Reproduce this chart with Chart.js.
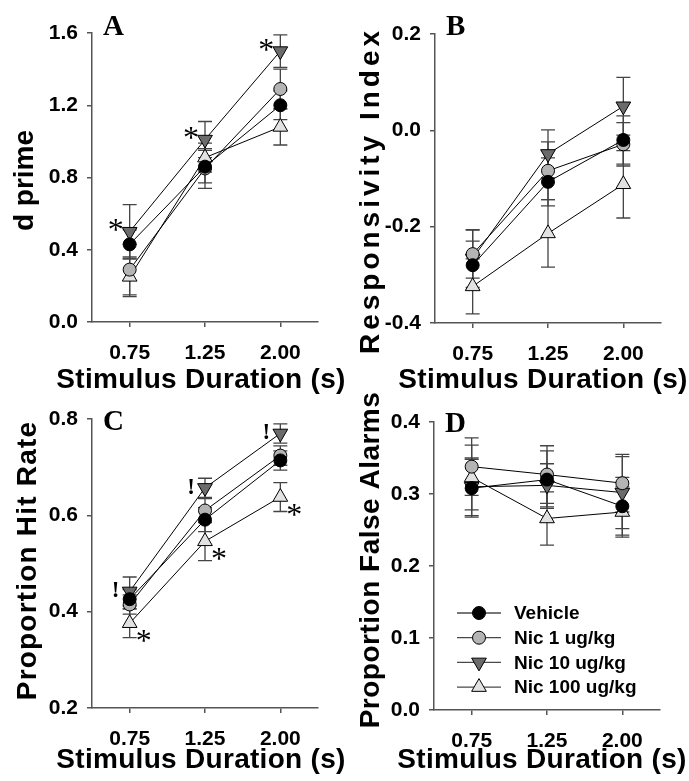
<!DOCTYPE html>
<html>
<head>
<meta charset="utf-8">
<script src="https://cdn.jsdelivr.net/npm/chart.js@4.4.1/dist/chart.umd.min.js"></script>
<style>
  body { margin: 0; background: #fff; }
  #wrap { position: relative; width: 689px; height: 781px; overflow: hidden; }
  canvas { position: absolute; }
</style>
</head>
<body>
<div id="wrap">
  <canvas id="cA" width="372" height="396" style="left:0;top:0"></canvas>
  <canvas id="cB" width="345" height="396" style="left:344px;top:0"></canvas>
  <canvas id="cC" width="372" height="391" style="left:0;top:390px"></canvas>
  <canvas id="cD" width="345" height="391" style="left:344px;top:390px"></canvas>
</div>
<script>
var durations = ['0.75', '1.25', '2.00'];
var groups = ['Vehicle', 'Nic 1 ug/kg', 'Nic 10 ug/kg', 'Nic 100 ug/kg'];
var xTitle = 'Stimulus Duration (s)';

// A - d prime
var dpVehicle = [0.43, 0.86, 1.20];
var dpNic1 = [0.29, 0.85, 1.29];
var dpNic10 = [0.50, 1.01, 1.50];
var dpNic100 = [0.25, 0.91, 1.08];
var dpVehicleSem = [0.08, 0.09, 0.08];
var dpNic1Sem = [0.14, 0.11, 0.11];
var dpNic10Sem = [0.15, 0.10, 0.09];
var dpNic100Sem = [0.11, 0.08, 0.10];
var dpTicks = [0.0, 0.4, 0.8, 1.2, 1.6];
var dpNic10Marks = ['*', '*', '*'];

// B - responsivity index
var riVehicle = [-0.280, -0.107, -0.020];
var riNic1 = [-0.257, -0.084, -0.029];
var riNic10 = [-0.266, -0.049, 0.050];
var riNic100 = [-0.324, -0.214, -0.112];
var riVehicleSem = [0.05, 0.05, 0.05];
var riNic1Sem = [0.05, 0.06, 0.045];
var riNic10Sem = [0.06, 0.05, 0.06];
var riNic100Sem = [0.057, 0.07, 0.07];
var riTicks = [-0.4, -0.2, 0.0, 0.2];

// C - hit rate
var hrVehicle = [0.426, 0.591, 0.714];
var hrNic1 = [0.415, 0.610, 0.724];
var hrNic10 = [0.442, 0.657, 0.770];
var hrNic100 = [0.376, 0.546, 0.638];
var hrVehicleSem = [0.02, 0.025, 0.02];
var hrNic1Sem = [0.02, 0.025, 0.02];
var hrNic10Sem = [0.03, 0.02, 0.02];
var hrNic100Sem = [0.03, 0.04, 0.03];
var hrTicks = [0.2, 0.4, 0.6, 0.8];
var hrNic10Marks = ['!', '!', '!'];
var hrNic100Marks = ['*', '*', '*'];

// D - false alarms
var faVehicle = [0.308, 0.320, 0.283];
var faNic1 = [0.338, 0.327, 0.315];
var faNic10 = [0.310, 0.312, 0.302];
var faNic100 = [0.323, 0.266, 0.275];
var faVehicleSem = [0.04, 0.04, 0.04];
var faNic1Sem = [0.04, 0.04, 0.04];
var faNic10Sem = [0.04, 0.03, 0.05];
var faNic100Sem = [0.045, 0.037, 0.035];
var faTicks = [0.0, 0.1, 0.2, 0.3, 0.4];

var sans = '"Liberation Sans", Arial, sans-serif';
var serif = '"Liberation Serif", "Times New Roman", serif';
var axisColor = '#555555';

var styles = [
  { fill: '#000000', shape: 'circle', r: 6.5, rot: 0 },
  { fill: '#b4b4b4', shape: 'circle', r: 6.5, rot: 0 },
  { fill: '#6b6b6b', shape: 'triangle', r: 8.5, rot: 180 },
  { fill: '#e2e2e2', shape: 'triangle', r: 8.5, rot: 0 }
];

function drawMarker(ctx, s, x, y) {
  ctx.beginPath();
  if (s.shape === 'circle') {
    ctx.arc(x, y, s.r, 0, Math.PI * 2);
  } else {
    var rad = s.rot * Math.PI / 180;
    for (var k = 0; k < 3; k++) {
      var px = x + Math.sin(rad) * s.r, py = y - Math.cos(rad) * s.r;
      if (k === 0) ctx.moveTo(px, py); else ctx.lineTo(px, py);
      rad += Math.PI * 2 / 3;
    }
    ctx.closePath();
  }
  ctx.fillStyle = s.fill;
  ctx.fill();
  ctx.lineWidth = 1;
  ctx.strokeStyle = '#000';
  ctx.stroke();
}

var errorBars = {
  id: 'errorBars',
  beforeDatasetsDraw: function(chart) {
    var ctx = chart.ctx, xs = chart.scales.x, ys = chart.scales.y;
    ctx.save();
    ctx.strokeStyle = '#444444';
    ctx.lineWidth = 1.3;
    chart.data.datasets.forEach(function(ds) {
      ds.data.forEach(function(v, i) {
        var px = xs.getPixelForValue(i);
        var top = ys.getPixelForValue(v + ds.sem[i]);
        var bot = ys.getPixelForValue(v - ds.sem[i]);
        ctx.beginPath();
        ctx.moveTo(px, top); ctx.lineTo(px, bot);
        ctx.moveTo(px - 7, top); ctx.lineTo(px + 7, top);
        ctx.moveTo(px - 7, bot); ctx.lineTo(px + 7, bot);
        ctx.stroke();
      });
    });
    ctx.restore();
  }
};

function textPlugin(p) {
  return {
    id: 'panelText',
    afterDatasetsDraw: function(chart) {
      var ctx = chart.ctx, xs = chart.scales.x, ys = chart.scales.y, area = chart.chartArea;
      ctx.save();
      ctx.fillStyle = '#000';
      ctx.textBaseline = 'alphabetic';

      // axis titles (drawn here so they are not squeezed to the axis length)
      ctx.font = 'bold 28px ' + sans;
      ctx.textAlign = 'center';
      ctx.letterSpacing = '0.3px';
      ctx.fillText(xTitle, (area.left + area.right) / 2 + p.xShift, p.xTitleY);
      ctx.save();
      ctx.letterSpacing = p.ySpacing + 'px';
      ctx.translate(p.yTitleX, (area.top + area.bottom) / 2 + p.yShift);
      ctx.rotate(-Math.PI / 2);
      ctx.fillText(p.yTitle, 0, 0);
      ctx.restore();
      ctx.letterSpacing = '0px';

      // panel letter
      ctx.textAlign = 'left';
      ctx.font = 'bold 29px ' + serif;
      ctx.fillText(p.letter, area.left + 11, p.letterY);

      // significance marks
      ctx.textAlign = 'center';
      (p.marks || []).forEach(function(m) {
        var vals = chart.data.datasets[m.ds].data;
        m.text.forEach(function(t, i) {
          var cx = xs.getPixelForValue(i) + m.dx;
          var cy = ys.getPixelForValue(vals[i]) + m.dy;
          if (t === '*') {
            ctx.font = '32px ' + serif;
            ctx.fillText(t, cx, cy + 0.46 * 32);
          } else {
            ctx.font = 'bold 23px ' + serif;
            ctx.fillText(t, cx, cy + 0.34 * 23);
          }
        });
      });

      // legend inside the plot
      if (p.legend) {
        var rowY = area.bottom - 97;
        groups.forEach(function(name, k) {
          var y = rowY + k * 24.7;
          ctx.strokeStyle = '#4a4a4a';
          ctx.lineWidth = 1.3;
          ctx.beginPath();
          ctx.moveTo(area.left + 23, y);
          ctx.lineTo(area.left + 67, y);
          ctx.stroke();
          drawMarker(ctx, styles[k], area.left + 45, y);
          ctx.fillStyle = '#000';
          ctx.textAlign = 'left';
          ctx.textBaseline = 'middle';
          ctx.font = 'bold 19px ' + sans;
          ctx.fillText(name, area.left + 80, y + 1);
        });
      }
      ctx.restore();
    }
  };
}

function makePanel(id, p) {
  var sets = p.values.map(function(vals, k) {
    var s = styles[k];
    return {
      label: groups[k],
      data: vals,
      sem: p.sems[k],
      borderColor: '#000',
      borderWidth: 1,
      pointStyle: s.shape,
      pointRotation: s.rot,
      pointRadius: s.r,
      pointHoverRadius: s.r,
      pointBackgroundColor: s.fill,
      pointBorderColor: '#000',
      pointBorderWidth: 1,
      fill: false,
      tension: 0
    };
  });
  var gridOpts = { display: true, drawOnChartArea: false, tickLength: 5, color: axisColor, lineWidth: 1.5 };
  new Chart(document.getElementById(id), {
    type: 'line',
    data: { labels: durations, datasets: sets },
    options: {
      responsive: false,
      animation: false,
      events: [],
      layout: { padding: { top: p.top, right: p.right, left: 0, bottom: 0 } },
      plugins: { legend: { display: false }, tooltip: { enabled: false } },
      scales: {
        x: {
          offset: true,
          grid: gridOpts,
          border: { color: axisColor, width: 1.5 },
          ticks: { color: '#000', font: { family: sans, size: 21, weight: 'bold' }, padding: 14, maxRotation: 0 },
          afterFit: function(s) { s.height = p.xHeight; }
        },
        y: {
          min: p.ticks[0],
          max: p.ticks[p.ticks.length - 1],
          grid: gridOpts,
          border: { color: axisColor, width: 1.5 },
          ticks: {
            color: '#000', font: { family: sans, size: 21, weight: 'bold' }, padding: 9,
            callback: function(v) { return Number(v).toFixed(1); }
          },
          afterBuildTicks: function(s) { s.ticks = p.ticks.map(function(v) { return { value: v }; }); },
          afterFit: function(s) { s.width = p.yWidth; }
        }
      }
    },
    plugins: [errorBars, textPlugin(p)]
  });
}

makePanel('cA', {
  values: [dpVehicle, dpNic1, dpNic10, dpNic100],
  sems: [dpVehicleSem, dpNic1Sem, dpNic10Sem, dpNic100Sem],
  ticks: dpTicks, yTitle: 'd prime', yTitleX: 33, yShift: 3, ySpacing: 0,
  yWidth: 92, right: 54, top: 33, xHeight: 74, xTitleY: 388, xShift: -4,
  letter: 'A', letterY: 35,
  marks: [{ ds: 2, text: dpNic10Marks, dx: -14, dy: -6 }]
});

makePanel('cB', {
  values: [riVehicle, riNic1, riNic10, riNic100],
  sems: [riVehicleSem, riNic1Sem, riNic10Sem, riNic100Sem],
  ticks: riTicks, yTitle: 'Responsivity Index', yTitleX: 35, yShift: 12, ySpacing: 4,
  yWidth: 91, right: 28, top: 34, xHeight: 73, xTitleY: 388, xShift: -5,
  letter: 'B', letterY: 35
});

makePanel('cC', {
  values: [hrVehicle, hrNic1, hrNic10, hrNic100],
  sems: [hrVehicleSem, hrNic1Sem, hrNic10Sem, hrNic100Sem],
  ticks: hrTicks, yTitle: 'Proportion Hit Rate', yTitleX: 36, yShift: -3, ySpacing: 1.2,
  yWidth: 92, right: 54, top: 29, xHeight: 73, xTitleY: 378, xShift: -4,
  letter: 'C', letterY: 40,
  marks: [
    { ds: 2, text: hrNic10Marks, dx: -14, dy: -2 },
    { ds: 3, text: hrNic100Marks, dx: 14, dy: 13 }
  ]
});

makePanel('cD', {
  values: [faVehicle, faNic1, faNic10, faNic100],
  sems: [faVehicleSem, faNic1Sem, faNic10Sem, faNic100Sem],
  ticks: faTicks, yTitle: 'Proportion False Alarms', yTitleX: 35, yShift: -6, ySpacing: 0.5,
  yWidth: 90, right: 29, top: 32, xHeight: 71, xTitleY: 378, xShift: -5,
  letter: 'D', letterY: 42,
  legend: true
});
</script>
</body>
</html>
